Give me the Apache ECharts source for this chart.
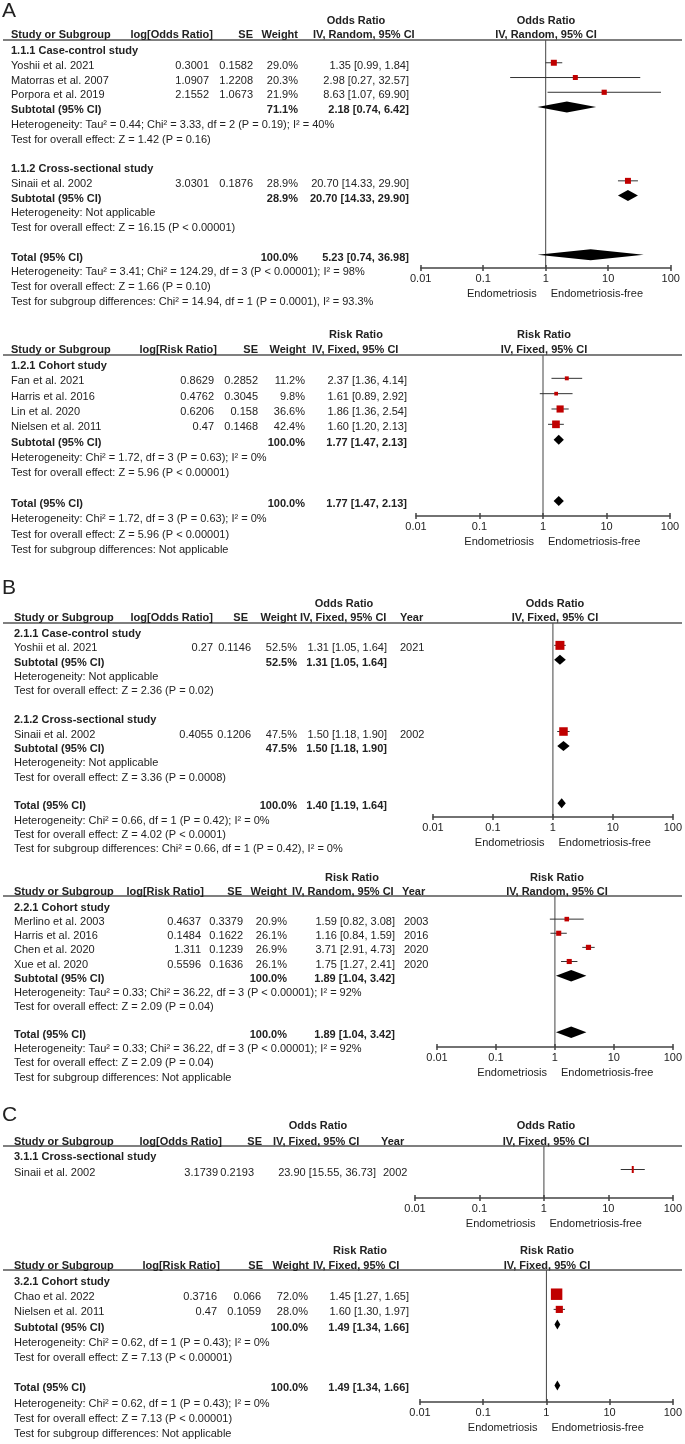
<!DOCTYPE html>
<html><head><meta charset="utf-8">
<script src="https://cdn.jsdelivr.net/npm/echarts@6/dist/echarts.min.js"></script>
<style>html,body{margin:0;padding:0;background:#fff}#c{width:685px;height:1444px}</style>
</head><body><div id="c"></div>
<script>
// ================= DATA =================
const axisTicks = [0.01, 0.1, 1, 10, 100];
const sideLabels = ['Endometriosis', 'Endometriosis-free'];

// ---- Panel A, table 1 ----
const a1Labels = ['Odds Ratio', 'log[Odds Ratio]', 'IV, Random, 95% CI'];
const a1Groups = ['1.1.1 Case-control study', '1.1.2 Cross-sectional study'];
const a1Studies = ['Yoshii et al. 2021', 'Matorras et al. 2007', 'Porpora et al. 2019', 'Sinaii et al. 2002'];
const a1StudyGroup = [0, 0, 0, 1];
const a1LogEffect = ['0.3001', '1.0907', '2.1552', '3.0301'];
const a1SE = ['0.1582', '1.2208', '1.0673', '0.1876'];
const a1Weight = [29.0, 20.3, 21.9, 28.9];
const a1Est = [1.35, 2.98, 8.63, 20.70];
const a1Low = [0.99, 0.27, 1.07, 14.33];
const a1High = [1.84, 32.57, 69.90, 29.90];
const a1SubWeight = [71.1, 28.9];
const a1SubEst = [2.18, 20.70];
const a1SubLow = [0.74, 14.33];
const a1SubHigh = [6.42, 29.90];
const a1SubNotes = [
  ['Heterogeneity: Tau² = 0.44; Chi² = 3.33, df = 2 (P = 0.19); I² = 40%', 'Test for overall effect: Z = 1.42 (P = 0.16)'],
  ['Heterogeneity: Not applicable', 'Test for overall effect: Z = 16.15 (P < 0.00001)']
];
const a1Total = [5.23, 0.74, 36.98];
const a1TotalNotes = ['Heterogeneity: Tau² = 3.41; Chi² = 124.29, df = 3 (P < 0.00001); I² = 98%',
  'Test for overall effect: Z = 1.66 (P = 0.10)',
  'Test for subgroup differences: Chi² = 14.94, df = 1 (P = 0.0001), I² = 93.3%'];

// ---- Panel A, table 2 ----
const a2Labels = ['Risk Ratio', 'log[Risk Ratio]', 'IV, Fixed, 95% CI'];
const a2Groups = ['1.2.1 Cohort study'];
const a2Studies = ['Fan et al. 2021', 'Harris et al. 2016', 'Lin et al. 2020', 'Nielsen et al. 2011'];
const a2StudyGroup = [0, 0, 0, 0];
const a2LogEffect = ['0.8629', '0.4762', '0.6206', '0.47'];
const a2SE = ['0.2852', '0.3045', '0.158', '0.1468'];
const a2Weight = [11.2, 9.8, 36.6, 42.4];
const a2Est = [2.37, 1.61, 1.86, 1.60];
const a2Low = [1.36, 0.89, 1.36, 1.20];
const a2High = [4.14, 2.92, 2.54, 2.13];
const a2SubWeight = [100.0];
const a2SubEst = [1.77];
const a2SubLow = [1.47];
const a2SubHigh = [2.13];
const a2SubNotes = [['Heterogeneity: Chi² = 1.72, df = 3 (P = 0.63); I² = 0%', 'Test for overall effect: Z = 5.96 (P < 0.00001)']];
const a2Total = [1.77, 1.47, 2.13];
const a2TotalNotes = ['Heterogeneity: Chi² = 1.72, df = 3 (P = 0.63); I² = 0%',
  'Test for overall effect: Z = 5.96 (P < 0.00001)',
  'Test for subgroup differences: Not applicable'];

// ---- Panel B, table 1 ----
const b1Labels = ['Odds Ratio', 'log[Odds Ratio]', 'IV, Fixed, 95% CI'];
const b1Groups = ['2.1.1 Case-control study', '2.1.2 Cross-sectional study'];
const b1Studies = ['Yoshii et al. 2021', 'Sinaii et al. 2002'];
const b1StudyGroup = [0, 1];
const b1LogEffect = ['0.27', '0.4055'];
const b1SE = ['0.1146', '0.1206'];
const b1Weight = [52.5, 47.5];
const b1Est = [1.31, 1.50];
const b1Low = [1.05, 1.18];
const b1High = [1.64, 1.90];
const b1Years = ['2021', '2002'];
const b1SubWeight = [52.5, 47.5];
const b1SubEst = [1.31, 1.50];
const b1SubLow = [1.05, 1.18];
const b1SubHigh = [1.64, 1.90];
const b1SubNotes = [
  ['Heterogeneity: Not applicable', 'Test for overall effect: Z = 2.36 (P = 0.02)'],
  ['Heterogeneity: Not applicable', 'Test for overall effect: Z = 3.36 (P = 0.0008)']
];
const b1Total = [1.40, 1.19, 1.64];
const b1TotalNotes = ['Heterogeneity: Chi² = 0.66, df = 1 (P = 0.42); I² = 0%',
  'Test for overall effect: Z = 4.02 (P < 0.0001)',
  'Test for subgroup differences: Chi² = 0.66, df = 1 (P = 0.42), I² = 0%'];

// ---- Panel B, table 2 ----
const b2Labels = ['Risk Ratio', 'log[Risk Ratio]', 'IV, Random, 95% CI'];
const b2Groups = ['2.2.1 Cohort study'];
const b2Studies = ['Merlino et al. 2003', 'Harris et al. 2016', 'Chen et al. 2020', 'Xue et al. 2020'];
const b2StudyGroup = [0, 0, 0, 0];
const b2LogEffect = ['0.4637', '0.1484', '1.311', '0.5596'];
const b2SE = ['0.3379', '0.1622', '0.1239', '0.1636'];
const b2Weight = [20.9, 26.1, 26.9, 26.1];
const b2Est = [1.59, 1.16, 3.71, 1.75];
const b2Low = [0.82, 0.84, 2.91, 1.27];
const b2High = [3.08, 1.59, 4.73, 2.41];
const b2Years = ['2003', '2016', '2020', '2020'];
const b2SubWeight = [100.0];
const b2SubEst = [1.89];
const b2SubLow = [1.04];
const b2SubHigh = [3.42];
const b2SubNotes = [['Heterogeneity: Tau² = 0.33; Chi² = 36.22, df = 3 (P < 0.00001); I² = 92%', 'Test for overall effect: Z = 2.09 (P = 0.04)']];
const b2Total = [1.89, 1.04, 3.42];
const b2TotalNotes = ['Heterogeneity: Tau² = 0.33; Chi² = 36.22, df = 3 (P < 0.00001); I² = 92%',
  'Test for overall effect: Z = 2.09 (P = 0.04)',
  'Test for subgroup differences: Not applicable'];

// ---- Panel C, table 1 ----
const c1Labels = ['Odds Ratio', 'log[Odds Ratio]', 'IV, Fixed, 95% CI'];
const c1Groups = ['3.1.1 Cross-sectional study'];
const c1Studies = ['Sinaii et al. 2002'];
const c1StudyGroup = [0];
const c1LogEffect = ['3.1739'];
const c1SE = ['0.2193'];
const c1Est = [23.90];
const c1Low = [15.55];
const c1High = [36.73];
const c1Years = ['2002'];

// ---- Panel C, table 2 ----
const c2Labels = ['Risk Ratio', 'log[Risk Ratio]', 'IV, Fixed, 95% CI'];
const c2Groups = ['3.2.1 Cohort study'];
const c2Studies = ['Chao et al. 2022', 'Nielsen et al. 2011'];
const c2StudyGroup = [0, 0];
const c2LogEffect = ['0.3716', '0.47'];
const c2SE = ['0.066', '0.1059'];
const c2Weight = [72.0, 28.0];
const c2Est = [1.45, 1.60];
const c2Low = [1.27, 1.30];
const c2High = [1.65, 1.97];
const c2SubWeight = [100.0];
const c2SubEst = [1.49];
const c2SubLow = [1.34];
const c2SubHigh = [1.66];
const c2SubNotes = [['Heterogeneity: Chi² = 0.62, df = 1 (P = 0.43); I² = 0%', 'Test for overall effect: Z = 7.13 (P < 0.00001)']];
const c2Total = [1.49, 1.34, 1.66];
const c2TotalNotes = ['Heterogeneity: Chi² = 0.62, df = 1 (P = 0.43); I² = 0%',
  'Test for overall effect: Z = 7.13 (P < 0.00001)',
  'Test for subgroup differences: Not applicable'];

// ================= LAYOUT =================
const FONT = '"Liberation Sans", Arial, Helvetica, sans-serif';
const TXT = '#222';
const RED = '#c00000';

const panels = [
  { d: {labels:a1Labels, groups:a1Groups, studies:a1Studies, sg:a1StudyGroup, logEff:a1LogEffect, se:a1SE, weight:a1Weight, est:a1Est, low:a1Low, high:a1High,
        subW:a1SubWeight, subEst:a1SubEst, subLow:a1SubLow, subHigh:a1SubHigh, subNotes:a1SubNotes, total:a1Total, totalNotes:a1TotalNotes},
    L: {letter:'A', letterY:11, titleY:21, headY:35, lineY:40, axisY:268, row0:51, rowH:14.76, x0:420.7, x1:670.7,
        cStudy:11, cLog:209, cSE:253, cW:298, cCI:409, hLog:213, hSE:253, hW:298, hCI:313, titleX:356, plotTitleX:546, boxK:1.11, diaH:11} },
  { d: {labels:a2Labels, groups:a2Groups, studies:a2Studies, sg:a2StudyGroup, logEff:a2LogEffect, se:a2SE, weight:a2Weight, est:a2Est, low:a2Low, high:a2High,
        subW:a2SubWeight, subEst:a2SubEst, subLow:a2SubLow, subHigh:a2SubHigh, subNotes:a2SubNotes, total:a2Total, totalNotes:a2TotalNotes},
    L: {titleY:335, headY:350, lineY:355, axisY:516, row0:366, rowH:15.33, x0:416, x1:670,
        cStudy:11, cLog:214, cSE:258, cW:305, cCI:407, hLog:217, hSE:258, hW:306, hCI:312, titleX:356, plotTitleX:544, boxK:1.18, diaH:10} },
  { d: {labels:b1Labels, groups:b1Groups, studies:b1Studies, sg:b1StudyGroup, logEff:b1LogEffect, se:b1SE, weight:b1Weight, est:b1Est, low:b1Low, high:b1High, years:b1Years,
        subW:b1SubWeight, subEst:b1SubEst, subLow:b1SubLow, subHigh:b1SubHigh, subNotes:b1SubNotes, total:b1Total, totalNotes:b1TotalNotes},
    L: {letter:'B', letterY:588, titleY:604, headY:618, lineY:623, axisY:817, row0:634, rowH:14.36, x0:433, x1:674,
        cStudy:14, cLog:213, cSE:251, cW:297, cCI:387, cYear:400, hLog:213, hSE:248, hW:297, hCI:300, hYear:400, titleX:344, plotTitleX:555, boxK:1.24, diaH:10} },
  { d: {labels:b2Labels, groups:b2Groups, studies:b2Studies, sg:b2StudyGroup, logEff:b2LogEffect, se:b2SE, weight:b2Weight, est:b2Est, low:b2Low, high:b2High, years:b2Years,
        subW:b2SubWeight, subEst:b2SubEst, subLow:b2SubLow, subHigh:b2SubHigh, subNotes:b2SubNotes, total:b2Total, totalNotes:b2TotalNotes},
    L: {titleY:878, headY:892, lineY:896, axisY:1047, row0:908, rowH:14.125, x0:437, x1:675,
        cStudy:14, cLog:201, cSE:243, cW:287, cCI:395, cYear:404, hLog:204, hSE:242, hW:287, hCI:292, hYear:402, titleX:352, plotTitleX:557, boxK:1.0, diaH:11.5} },
  { d: {labels:c1Labels, groups:c1Groups, studies:c1Studies, sg:c1StudyGroup, logEff:c1LogEffect, se:c1SE, est:c1Est, low:c1Low, high:c1High, years:c1Years},
    L: {letter:'C', letterY:1115, titleY:1126, headY:1142, lineY:1146, axisY:1198, row0:1157, rowH:15.5, x0:415, x1:674,
        cStudy:14, cLog:218, cSE:254, cCI:376, cYear:383, hLog:222, hSE:262, hCI:273, hYear:381, titleX:318, plotTitleX:546, boxK:1, diaH:10} },
  { d: {labels:c2Labels, groups:c2Groups, studies:c2Studies, sg:c2StudyGroup, logEff:c2LogEffect, se:c2SE, weight:c2Weight, est:c2Est, low:c2Low, high:c2High,
        subW:c2SubWeight, subEst:c2SubEst, subLow:c2SubLow, subHigh:c2SubHigh, subNotes:c2SubNotes, total:c2Total, totalNotes:c2TotalNotes},
    L: {titleY:1251, headY:1266, lineY:1270, axisY:1402, row0:1282, rowH:15.2, x0:420, x1:673,
        cStudy:14, cLog:217, cSE:261, cW:308, cCI:409, hLog:220, hSE:263, hW:309, hCI:313, titleX:360, plotTitleX:547, boxK:1.35, diaH:10} }
];
const MARK_OFF = -3;

// ================= BUILD =================
const fmtCI = (e, l, h) => e.toFixed(2) + ' [' + l.toFixed(2) + ', ' + h.toFixed(2) + ']';

function buildRows(d) {
  const rows = [];
  d.groups.forEach((g, gi) => {
    rows.push({kind:'group', text:g});
    d.studies.forEach((s, si) => { if (d.sg[si] === gi) rows.push({kind:'study', i:si}); });
    if (d.subEst) {
      rows.push({kind:'sub', gi});
      d.subNotes[gi].forEach(t => rows.push({kind:'note', text:t}));
      rows.push({kind:'blank'});
    }
  });
  if (d.total) {
    rows.push({kind:'total'});
    d.totalNotes.forEach(t => rows.push({kind:'note', text:t}));
  }
  return rows;
}

const gfx = [];
function T(text, x, y, opt) {
  opt = opt || {};
  gfx.push({type:'text', silent:true, z:10, style:{text:text, x:x, y:y,
    font:(opt.bold ? 'bold ' : '') + (opt.size || 11) + 'px ' + FONT,
    fill:opt.color || TXT, align:opt.align || 'left', verticalAlign:'middle'}});
}
function Ln(x1, y1, x2, y2, w, c) {
  gfx.push({type:'line', silent:true, z:5, shape:{x1:x1, y1:y1, x2:x2, y2:y2}, style:{stroke:c, lineWidth:w}});
}

function makeRender(L) {
  return function (params, api) {
    const est = api.value(0), lo = api.value(1), hi = api.value(2), row = api.value(3), w = api.value(4), kind = api.value(5);
    const p = api.coord([est, row]), a = api.coord([lo, row]), b = api.coord([hi, row]);
    if (kind === 1) {
      const h = L.diaH / 2;
      return {type:'polygon', shape:{points:[[a[0], p[1]], [p[0], p[1] - h], [b[0], p[1]], [p[0], p[1] + h]]}, style:{fill:'#000'}};
    }
    const children = [{type:'line', shape:{x1:a[0], y1:a[1], x2:b[0], y2:b[1]}, style:{stroke:'#333', lineWidth:1}}];
    if (kind === 2) {
      children.push({type:'rect', shape:{x:p[0] - 1, y:p[1] - 3.5, width:2, height:7}, style:{fill:RED}});
    } else {
      const s = L.boxK * Math.sqrt(w);
      children.push({type:'rect', shape:{x:p[0] - s / 2, y:p[1] - s / 2, width:s, height:s}, style:{fill:RED}});
    }
    return {type:'group', children:children};
  };
}

const grids = [], xAxes = [], yAxes = [], series = [];
const tickFmt = v => String(+Number(v).toPrecision(4));

panels.forEach((P, i) => {
  const d = P.d, L = P.L;
  const rows = buildRows(d);
  const mark0 = L.row0 + MARK_OFF;
  const yMin = (L.lineY - mark0) / L.rowH, yMax = (L.axisY - mark0) / L.rowH;
  const ty = r => L.row0 + r * L.rowH;

  if (L.letter) T(L.letter, 2, L.letterY, {size:21});
  // headers
  T(d.labels[0], L.titleX, L.titleY, {bold:true, align:'center'});
  T(d.labels[0], L.plotTitleX, L.titleY, {bold:true, align:'center'});
  T(d.labels[2], L.plotTitleX, L.headY, {bold:true, align:'center'});
  T('Study or Subgroup', L.cStudy, L.headY, {bold:true});
  T(d.labels[1], L.hLog, L.headY, {bold:true, align:'right'});
  T('SE', L.hSE, L.headY, {bold:true, align:'right'});
  if (d.weight) T('Weight', L.hW, L.headY, {bold:true, align:'right'});
  T(d.labels[2], L.hCI, L.headY, {bold:true});
  if (d.years) T('Year', L.hYear, L.headY, {bold:true});
  Ln(3, L.lineY, 682, L.lineY, 1.5, '#555');

  const marks = [];
  rows.forEach((r, ri) => {
    const y = ty(ri);
    if (r.kind === 'group') T(r.text, L.cStudy, y, {bold:true});
    else if (r.kind === 'note') T(r.text, L.cStudy, y);
    else if (r.kind === 'study') {
      const k = r.i;
      T(d.studies[k], L.cStudy, y);
      T(d.logEff[k], L.cLog, y, {align:'right'});
      T(d.se[k], L.cSE, y, {align:'right'});
      if (d.weight) T(d.weight[k].toFixed(1) + '%', L.cW, y, {align:'right'});
      T(fmtCI(d.est[k], d.low[k], d.high[k]), L.cCI, y, {align:'right'});
      if (d.years) T(d.years[k], L.cYear, y);
      marks.push([d.est[k], d.low[k], d.high[k], ri, d.weight ? d.weight[k] : 0, d.weight ? 0 : 2]);
    } else if (r.kind === 'sub') {
      const g = r.gi;
      T('Subtotal (95% CI)', L.cStudy, y, {bold:true});
      T(d.subW[g].toFixed(1) + '%', L.cW, y, {bold:true, align:'right'});
      T(fmtCI(d.subEst[g], d.subLow[g], d.subHigh[g]), L.cCI, y, {bold:true, align:'right'});
      marks.push([d.subEst[g], d.subLow[g], d.subHigh[g], ri, 0, 1]);
    } else if (r.kind === 'total') {
      T('Total (95% CI)', L.cStudy, y, {bold:true});
      T((100).toFixed(1) + '%', L.cW, y, {bold:true, align:'right'});
      T(fmtCI(d.total[0], d.total[1], d.total[2]), L.cCI, y, {bold:true, align:'right'});
      marks.push([d.total[0], d.total[1], d.total[2], ri, 0, 1]);
    }
  });

  // axis side labels
  const xOne = L.x0 + (L.x1 - L.x0) / 2;
  T(sideLabels[0], xOne - 9, L.axisY + 26, {align:'right'});
  T(sideLabels[1], xOne + 5, L.axisY + 26);

  grids.push({left:L.x0, top:L.lineY, width:L.x1 - L.x0, height:L.axisY - L.lineY, containLabel:false});
  const base = {type:'log', logBase:10, min:axisTicks[0], max:axisTicks[axisTicks.length - 1], splitNumber:axisTicks.length - 1,
    gridIndex:i, position:'bottom', splitLine:{show:false}, minorTick:{show:false}};
  xAxes.push(Object.assign({}, base, {
    axisLine:{show:true, onZero:false, lineStyle:{color:'#444', width:1.5}},
    axisTick:{show:true, length:3, lineStyle:{color:'#444', width:1.5}},
    axisLabel:{show:true, margin:5, fontSize:11, fontFamily:FONT, color:TXT, formatter:tickFmt, showMinLabel:true, showMaxLabel:true}
  }));
  xAxes.push(Object.assign({}, base, {
    axisLine:{show:false, onZero:false},
    axisTick:{show:true, inside:true, length:3, lineStyle:{color:'#444', width:1.5}},
    axisLabel:{show:false}
  }));
  yAxes.push({type:'value', gridIndex:i, inverse:true, min:yMin, max:yMax, show:false});

  series.push({type:'line', xAxisIndex:2 * i, yAxisIndex:i, data:[[1, yMin], [1, yMax]], symbol:'none', silent:true,
    lineStyle:{color:'#444', width:1}, z:1});
  series.push({type:'custom', xAxisIndex:2 * i, yAxisIndex:i, data:marks, renderItem:makeRender(L), clip:false, silent:true,
    dimensions:['est', 'lo', 'hi', 'row', 'w', 'kind'], encode:{x:['est', 'lo', 'hi'], y:'row'}, z:3});
});

const chart = echarts.init(document.getElementById('c'), null, {renderer:'canvas', width:685, height:1444});
chart.setOption({
  animation:false,
  backgroundColor:'#fff',
  grid:grids, xAxis:xAxes, yAxis:yAxes, series:series,
  graphic:{elements:gfx}
});
</script>
</body></html>
